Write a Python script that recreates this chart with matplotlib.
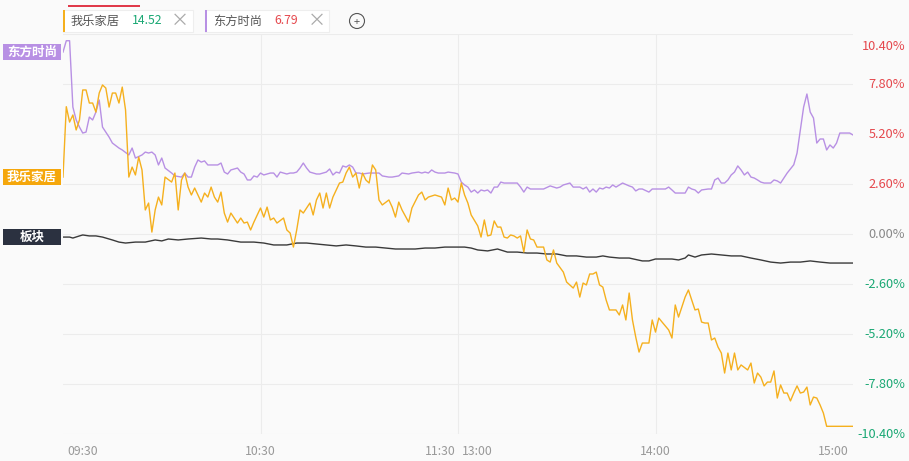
import numpy as np
import matplotlib.pyplot as plt
from matplotlib.patches import Rectangle, Ellipse
from matplotlib.transforms import blended_transform_factory

plt.rcParams['font.family'] = ['Noto Sans CJK SC', 'DejaVu Sans']

# trading minutes since 09:30 (lunch break removed, 120 = 11:30/13:00, 240 = 15:00), values in %
wole_t = [0, 1, 2, 3, 4, 5, 6, 7, 8, 9, 10, 11, 12, 13, 14, 15, 16, 17, 18, 19,
          20, 21, 22, 23, 24, 25, 26, 27, 28, 29, 30, 31, 33, 34, 35, 36, 37, 38, 39, 40,
          42, 43, 44, 45, 46, 47, 48, 49, 50, 51, 53, 54, 55, 56, 57, 58, 60, 61, 62, 63,
          64, 65, 67, 68, 69, 70, 71, 72, 73, 75, 76, 77, 78, 79, 80, 81, 82, 84, 85, 86,
          87, 88, 89, 90, 91, 92, 93, 94, 95, 96, 97, 99, 100, 101, 102, 103, 105, 106, 108, 109,
          110, 111, 113, 115, 116, 117, 118, 119, 120, 121, 122, 123, 124, 126, 127, 128, 129, 130, 131, 132,
          133, 134, 135, 136, 137, 138, 139, 140, 141, 142, 143, 144, 146, 147, 148, 149, 150, 152, 153, 155,
          156, 157, 158, 159, 160, 161, 162, 163, 164, 165, 166, 168, 169, 170, 171, 172, 173, 174, 175, 176,
          178, 179, 180, 181, 182, 184, 185, 186, 187, 188, 189, 190, 191, 192, 193, 194, 195, 196, 197, 198,
          199, 200, 201, 202, 203, 204, 205, 206, 208, 209, 210, 211, 212, 213, 214, 215, 216, 217, 218, 219,
          220, 221, 222, 223, 224, 225, 226, 227, 228, 229, 230, 231, 232, 240]
wole_v = [2.96, 6.62, 5.82, 6.19, 5.41, 5.93, 7.49, 7.49, 6.81, 6.81, 6.34, 7.33, 7.75, 7.59, 6.60, 7.33, 7.33, 6.81, 7.64, 6.45,
          2.96, 3.48, 3.07, 4.00, 3.33, 1.25, 1.61, 0.10, 1.25, 1.92, 1.51, 2.96, 2.70, 3.17, 1.25, 2.81, 3.17, 2.44, 2.03, 2.39,
          1.66, 2.13, 1.92, 2.44, 1.92, 1.66, 2.18, 1.09, 0.62, 1.09, 0.57, 0.83, 0.57, 0.62, 0.21, 0.62, 1.35, 0.88, 1.40, 0.73,
          0.83, 0.57, 0.83, 0.21, 0.05, -0.68, 0.21, 1.25, 1.09, 1.61, 0.99, 1.77, 2.13, 1.35, 2.13, 1.35, 1.92, 2.65, 2.70, 3.17,
          3.48, 2.96, 3.17, 2.39, 3.17, 2.81, 2.65, 3.59, 3.33, 1.77, 1.51, 1.77, 1.40, 0.88, 1.66, 1.25, 0.62, 1.35, 2.03, 2.18,
          1.77, 1.92, 2.03, 1.92, 1.51, 2.39, 1.77, 1.87, 1.66, 2.65, 2.03, 1.61, 0.99, 0.42, -0.16, 0.73, -0.10, -0.05, 0.68, 0.36,
          0.36, -0.16, -0.21, -0.05, -0.10, -0.21, -0.10, -0.94, 0.21, -0.26, -0.31, -0.68, -0.68, -1.35, -1.46, -0.83, -1.51, -1.98, -2.50, -2.81,
          -2.50, -3.28, -2.55, -2.65, -2.08, -2.08, -1.98, -2.65, -2.76, -3.43, -3.95, -3.95, -4.21, -3.69, -4.47, -3.07, -4.47, -5.36, -6.14, -5.67,
          -5.67, -4.47, -5.10, -4.37, -4.58, -4.99, -5.41, -3.69, -4.32, -3.80, -3.28, -2.91, -3.43, -3.95, -3.90, -4.58, -4.63, -4.63, -5.51, -5.41,
          -5.88, -6.19, -7.23, -6.19, -7.07, -6.19, -7.07, -6.81, -7.07, -6.71, -7.75, -7.23, -7.44, -7.90, -7.70, -7.70, -7.12, -8.53, -7.85, -8.27,
          -8.27, -8.68, -8.27, -7.90, -8.27, -8.22, -7.96, -8.89, -8.48, -8.53, -8.89, -9.31, -10.0, -10.0]

dfss_t = [0, 1, 2, 3, 4, 5, 6, 7, 8, 9, 10, 11, 12, 13, 14, 15, 17, 18, 20, 21,
          22, 24, 25, 26, 27, 28, 29, 30, 31, 33, 34, 36, 37, 38, 39, 40, 41, 42, 43, 44,
          46, 47, 48, 49, 50, 51, 53, 54, 55, 56, 57, 58, 59, 60, 61, 63, 64, 65, 66, 68,
          69, 70, 71, 72, 73, 74, 75, 77, 78, 80, 81, 82, 83, 84, 85, 86, 87, 88, 89, 90,
          91, 93, 94, 96, 97, 99, 100, 102, 103, 105, 106, 108, 109, 110, 111, 112, 113, 114, 116, 117,
          119, 120, 121, 122, 123, 124, 125, 126, 127, 128, 129, 130, 131, 132, 133, 134, 136, 138, 139, 140,
          141, 142, 144, 146, 148, 150, 151, 152, 154, 155, 157, 158, 159, 160, 161, 162, 163, 164, 165, 166,
          167, 168, 170, 172, 173, 174, 175, 176, 178, 179, 182, 183, 184, 185, 186, 189, 190, 191, 192, 193,
          194, 196, 197, 198, 199, 200, 201, 202, 203, 204, 205, 206, 207, 208, 209, 210, 211, 212, 213, 215,
          216, 217, 218, 219, 220, 222, 223, 224, 225, 226, 227, 228, 229, 230, 231, 232, 233, 234, 235, 236,
          238, 239, 240]
dfss_v = [9.46, 10.05, 10.05, 6.60, 5.93, 5.56, 5.25, 5.30, 6.08, 5.93, 6.34, 6.97, 5.56, 5.30, 5.04, 4.73, 4.47, 4.37, 4.11, 4.47,
          3.95, 4.11, 4.26, 4.21, 4.26, 4.11, 3.59, 3.95, 3.43, 3.17, 3.02, 2.96, 3.17, 2.96, 2.96, 3.48, 3.85, 3.74, 3.80, 3.59,
          3.59, 3.59, 3.69, 3.22, 3.12, 3.33, 3.43, 3.22, 3.12, 2.81, 2.81, 3.02, 2.96, 3.17, 3.07, 3.17, 3.17, 2.96, 3.22, 3.12,
          3.17, 3.17, 3.22, 3.43, 3.69, 3.43, 3.22, 3.12, 3.12, 3.22, 3.38, 3.07, 3.22, 3.17, 3.54, 3.48, 3.59, 3.48, 3.17, 3.17,
          3.12, 3.17, 3.17, 3.17, 3.02, 2.96, 2.96, 3.02, 3.17, 3.12, 3.17, 3.22, 3.17, 3.22, 3.17, 3.33, 3.22, 3.17, 3.17, 3.22,
          3.17, 3.12, 2.70, 2.55, 2.44, 2.18, 2.29, 2.13, 2.29, 2.24, 2.29, 2.13, 2.44, 2.44, 2.70, 2.65, 2.65, 2.65, 2.44, 2.18,
          2.44, 2.34, 2.34, 2.34, 2.50, 2.39, 2.44, 2.55, 2.65, 2.44, 2.44, 2.34, 2.44, 2.18, 2.34, 2.18, 2.39, 2.34, 2.44, 2.39,
          2.55, 2.44, 2.65, 2.50, 2.44, 2.24, 2.34, 2.34, 2.18, 2.34, 2.34, 2.34, 2.44, 2.29, 2.13, 2.13, 2.44, 2.34, 2.29, 2.13,
          2.29, 2.34, 2.34, 2.81, 2.91, 2.65, 2.65, 2.81, 3.07, 3.22, 3.54, 3.33, 3.07, 3.22, 2.96, 2.91, 2.81, 2.70, 2.65, 2.65,
          2.81, 2.76, 2.65, 2.91, 3.17, 3.60, 4.21, 5.41, 6.60, 7.28, 6.34, 6.03, 4.73, 4.94, 4.94, 4.37, 4.63, 4.47, 4.73, 5.25,
          5.25, 5.25, 5.15]

bk_t = [0, 2, 3, 5, 6, 8, 10, 12, 13, 15, 17, 19, 22, 25, 28, 30, 32, 35, 38, 42,
        45, 47, 50, 54, 58, 61, 64, 68, 71, 74, 77, 80, 83, 86, 89, 92, 95, 98, 101, 104,
        107, 110, 113, 116, 119, 122, 124, 126, 129, 132, 135, 138, 141, 144, 147, 150, 153, 156, 159, 162,
        164, 166, 169, 172, 176, 178, 180, 182, 185, 187, 189, 190, 192, 194, 197, 200, 203, 206, 209, 212,
        215, 218, 221, 224, 227, 230, 233, 236, 240]
bk_v = [-0.16, -0.16, -0.21, -0.10, -0.05, -0.10, -0.10, -0.16, -0.21, -0.31, -0.42, -0.47, -0.42, -0.42, -0.31, -0.36, -0.26, -0.31, -0.26, -0.21,
        -0.26, -0.26, -0.31, -0.42, -0.42, -0.47, -0.57, -0.57, -0.47, -0.47, -0.52, -0.57, -0.62, -0.57, -0.62, -0.68, -0.68, -0.73, -0.78, -0.78,
        -0.78, -0.73, -0.73, -0.68, -0.68, -0.68, -0.73, -0.83, -0.88, -0.78, -0.94, -0.94, -0.99, -0.99, -1.04, -1.04, -1.14, -1.14, -1.20, -1.20,
        -1.14, -1.20, -1.25, -1.25, -1.40, -1.40, -1.30, -1.30, -1.30, -1.35, -1.25, -1.09, -1.20, -1.09, -1.04, -1.09, -1.14, -1.14, -1.25, -1.35,
        -1.46, -1.51, -1.46, -1.46, -1.40, -1.46, -1.51, -1.51, -1.51]

y_ticks = [10.4, 7.8, 5.2, 2.6, 0.0, -2.6, -5.2, -7.8, -10.4]
x_ticks = [0, 60, 120, 180, 240]
x_labels = ['09:30', '10:30', '11:30', '13:00', '14:00', '15:00']

YELLOW = '#f5b01e'
PURPLE = '#b890e4'
DARK = '#3a3a3a'
RED = '#e5484d'
GREEN = '#1aa874'
GRID = '#ececec'
BG = '#fafafa'

PX = 0.72   # points per pixel at dpi 100


def main():
    fig = plt.figure(figsize=(9.09, 4.61), dpi=100)
    fig.patch.set_facecolor(BG)
    W, H = 909, 461
    ax = fig.add_axes([63 / W, 1 - 434 / H, (853 - 63) / W, 400 / H])
    ax.set_facecolor(BG)
    ax.set_xlim(0, 240)
    ax.set_ylim(-10.4, 10.4)
    for s in ax.spines.values():
        s.set_visible(False)
    ax.set_xticks([])
    ax.set_yticks([])

    for v in y_ticks:
        ax.axhline(v, color=GRID, lw=0.8, zorder=0)
    for t in x_ticks[1:-1]:
        ax.axvline(t, color=GRID, lw=0.8, zorder=0)

    ax.plot(bk_t, bk_v, color=DARK, lw=1.0, zorder=3)
    ax.plot(dfss_t, dfss_v, color=PURPLE, lw=1.0, zorder=2)
    ax.plot(wole_t, wole_v, color=YELLOW, lw=1.0, zorder=4)

    # right side percent labels
    for v in y_ticks:
        c = RED if v > 0 else (GREEN if v < 0 else '#888888')
        off = -12 * PX if v == y_ticks[0] else 0
        ax.annotate(f'{v:.2f}%', xy=(1, v), xycoords=('axes fraction', 'data'),
                    xytext=(52 * PX, off), textcoords='offset points', ha='right', va='center',
                    fontsize=9.2, color=c, annotation_clip=False)

    # time labels
    aligns = ['left', 'center', 'right', 'left', 'center', 'right']
    pos = [0, 60, 120, 120, 180, 240]
    dx = [4, 0, -2, 4, 0, -4]
    for lab, p, a, d in zip(x_labels, pos, aligns, dx):
        ax.annotate(lab, xy=(p, -10.4), xycoords='data', xytext=(d * PX, -17 * PX),
                    textcoords='offset points', ha=a, va='center', fontsize=8.8,
                    color='#999999', annotation_clip=False)

    # left tags at opening value
    tr = blended_transform_factory(fig.transFigure, ax.transData)
    box_h = 16 * 20.8 / 400
    tags = [('东方时尚', dfss_v[0], PURPLE), ('我乐家居', wole_v[0], '#f5a70c'), ('板块', bk_v[0], '#2b3140')]
    for name, v, c in tags:
        fig.add_artist(Rectangle((3 / W, v - box_h / 2), 58 / W, box_h, transform=tr, fc=c, ec='none'))
        fig.text(32 / W, v, name, transform=tr, ha='center', va='center', fontsize=9,
                 color='white', fontweight='bold')

    # top tabs
    fig.add_artist(Rectangle((63 / W, 1 - 32 / H), 130 / W, 22 / H, transform=fig.transFigure,
                             fc='white', ec='#eeeeee', lw=0.8))
    fig.add_artist(Rectangle((63 / W, 1 - 32 / H), 2 / W, 22 / H, transform=fig.transFigure,
                             fc=YELLOW, ec='none'))
    fig.add_artist(Rectangle((68 / W, 1 - 7 / H), 72 / W, 2 / H, transform=fig.transFigure,
                             fc='#e03a4a', ec='none'))
    fig.text(71 / W, 1 - 21 / H, '我乐家居', fontsize=8.8, color='#555555', va='center')
    fig.text(132 / W, 1 - 21 / H, '14.52', fontsize=8.8, color=GREEN, va='center')
    fig.text(180 / W, 1 - 21 / H, '×', fontsize=13, color='#aaaaaa', va='center', ha='center')

    fig.add_artist(Rectangle((205 / W, 1 - 32 / H), 124 / W, 22 / H, transform=fig.transFigure,
                             fc='white', ec='#eeeeee', lw=0.8))
    fig.add_artist(Rectangle((205 / W, 1 - 32 / H), 2 / W, 22 / H, transform=fig.transFigure,
                             fc=PURPLE, ec='none'))
    fig.text(213 / W, 1 - 21 / H, '东方时尚', fontsize=8.8, color='#555555', va='center')
    fig.text(274 / W, 1 - 21 / H, '6.79', fontsize=8.8, color=RED, va='center')
    fig.text(317 / W, 1 - 21 / H, '×', fontsize=13, color='#aaaaaa', va='center', ha='center')

    fig.add_artist(Ellipse((357 / W, 1 - 21 / H), 15 / W, 15 / H, transform=fig.transFigure,
                           fc='none', ec='#555555', lw=0.8))
    fig.text(357 / W, 1 - 21.5 / H, '+', fontsize=8, color='#555555', va='center', ha='center')

    fig.savefig('out.png', dpi=100, facecolor=BG)


if __name__ == '__main__':
    main()
